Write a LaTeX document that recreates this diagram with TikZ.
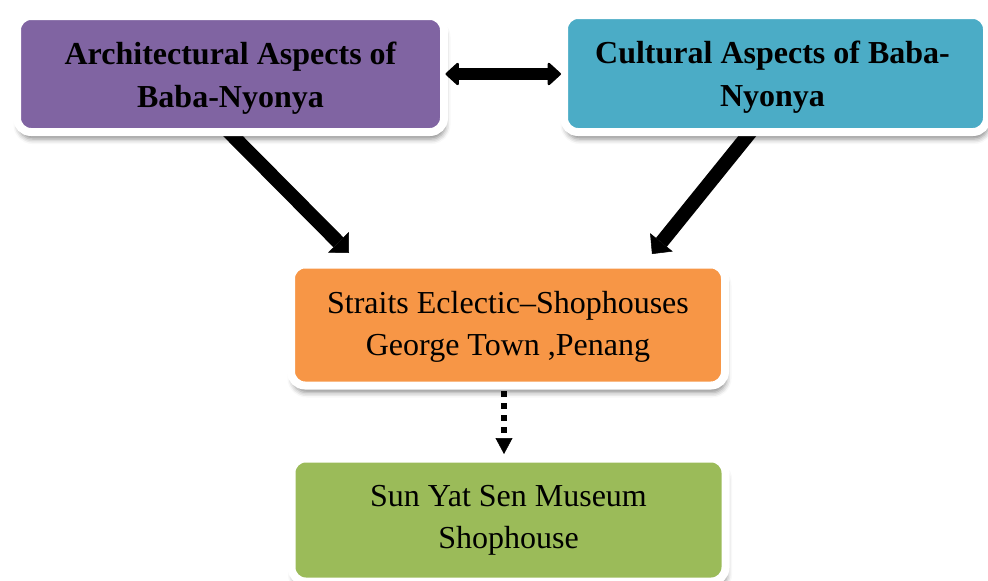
\documentclass[tikz,border=0pt]{standalone}
\usepackage{fontspec}
\setmainfont{Liberation Serif}
\usetikzlibrary{arrows.meta,shadows.blur,calc}
\pgfdeclarelayer{background}
\pgfsetlayers{background,main}
\definecolor{cpurple}{HTML}{8064A2}
\definecolor{cteal}{HTML}{4BACC6}
\definecolor{corange}{HTML}{F79646}
\definecolor{cgreen}{HTML}{9BBB59}
\tikzset{
  boxbase/.style={draw=white, line width=8pt, rounded corners=14pt,
    blur shadow={shadow xshift=1.5pt, shadow yshift=-7pt, shadow blur radius=5pt, shadow opacity=45}},
  plaintext/.style={align=center, inner sep=0pt, font=\fontsize{32}{42}\selectfont},
  boldtext/.style={align=center, inner sep=0pt, font=\fontsize{32}{43}\selectfont\bfseries},
  bigarrow/.style={line width=14pt, -{Triangle[length=15pt,width=29pt,line width=0.5pt]}},
  twoarrow/.style={line width=12pt, {Triangle[length=14pt,width=25pt,line width=2.5pt,round]}-{Triangle[length=14pt,width=25pt,line width=2.5pt,round]}},
  dotarrow/.style={line width=6pt, dash pattern=on 6pt off 6pt, -{Triangle[length=16pt,width=17pt,line width=0.5pt]}},
}
\begin{document}
\begin{tikzpicture}[x=1pt,y=-1pt]
\useasboundingbox (0,0) rectangle (988,581);
\node[boxbase, fill=cpurple, minimum width=427pt, minimum height=116pt] (arch) at (230.5,74) {};
\node[boxbase, fill=cteal, minimum width=423pt, minimum height=117pt] (cult) at (775.5,73.5) {};
\node[boxbase, fill=corange, minimum width=434pt, minimum height=121pt] (strait) at (508,325) {};
\node[boxbase, fill=cgreen, minimum width=434pt, minimum height=123pt] (sun) at (508.5,520) {};

\node[boldtext] (archtxt) at ([yshift=-4pt]arch.center) {Architectural Aspects of\\Baba-Nyonya};
\node[boldtext] (culttxt) at ([xshift=-3pt,yshift=-4pt]cult.center) {Cultural Aspects of Baba-\\Nyonya};
\node[plaintext] (straittxt) at ([yshift=-2pt]strait.center) {Straits Eclectic–Shophouses\\George Town ,Penang};
\node[plaintext] (suntxt) at (sun.center) {Sun Yat Sen Museum\\Shophouse};

\begin{pgfonlayer}{background}
\draw[bigarrow] ($(arch.south)+(-9.5,-12)$) -- ($(strait.north)+(-159,-7.5)$);
\draw[bigarrow] ($(cult.south)+(-18.5,-12)$) -- ($(strait.north)+(144,-6.5)$);
\end{pgfonlayer}
\draw[twoarrow] ($(arch.east)+(-2.5,0)$) -- ($(cult.west)+(1,0.5)$);
\draw[dotarrow] ($(strait.south)+(-4,1.5)$) -- ($(sun.north)+(-4.5,-0.5)$);
\end{tikzpicture}
\end{document}
